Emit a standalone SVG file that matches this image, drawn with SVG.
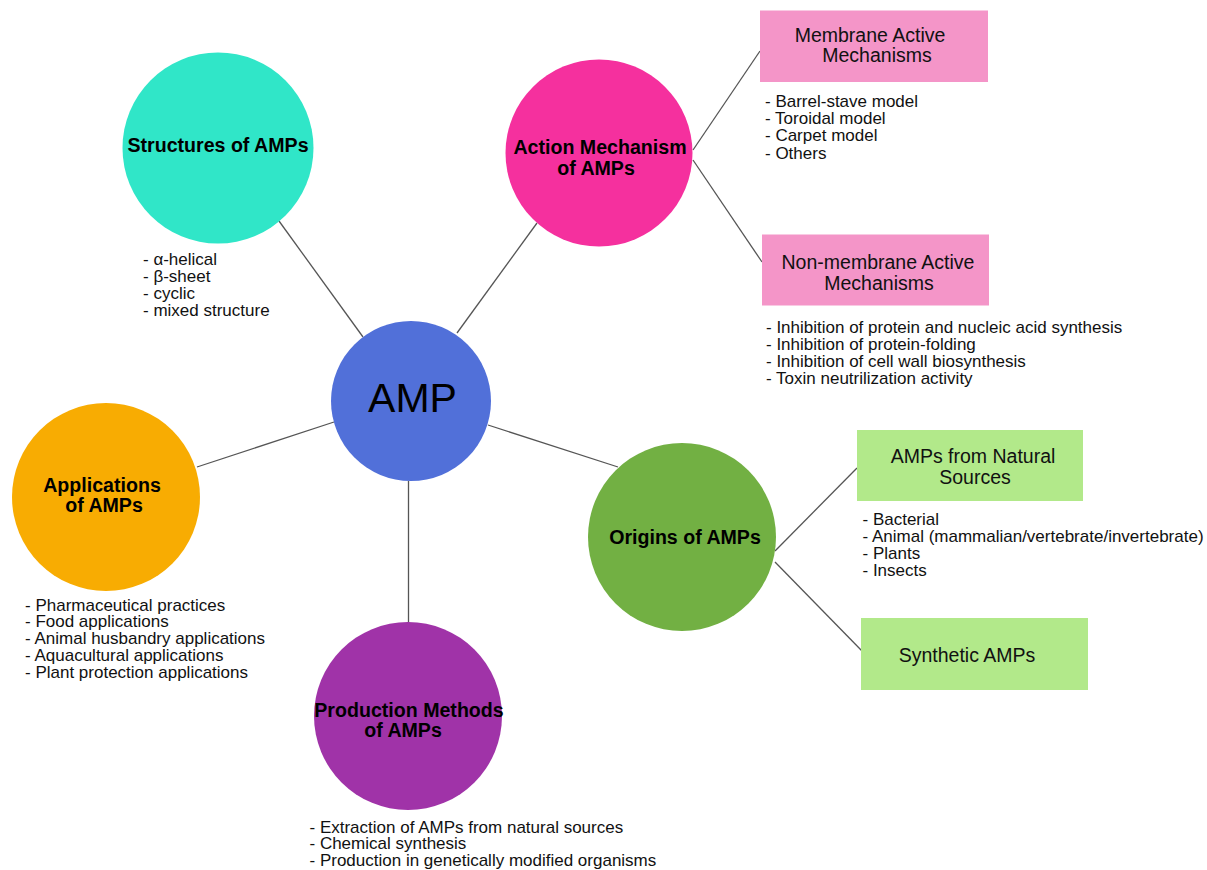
<svg xmlns="http://www.w3.org/2000/svg" width="1207" height="870" viewBox="0 0 1207 870">
<style>
.lbl{font-family:"Liberation Sans",Arial,sans-serif;font-weight:bold;font-size:19.6px;fill:#000;text-anchor:middle}
.box{font-family:"Liberation Sans",Arial,sans-serif;font-size:19.5px;fill:#111;text-anchor:middle}
.lst{font-family:"Liberation Sans",Arial,sans-serif;font-size:17px;fill:#111}
.con{stroke:#555;stroke-width:1.3;fill:none}
.pinkbox{fill:#F495C8}
.greenbox{fill:#B2E98A}
</style>
<rect width="1207" height="870" fill="#fff"/>
<g id="connectors">
<line class="con" x1="279" y1="221" x2="363" y2="337"/>
<line class="con" x1="537" y1="223" x2="457" y2="333"/>
<line class="con" x1="197" y1="467" x2="334" y2="422"/>
<line class="con" x1="488" y1="425" x2="618" y2="467"/>
<line class="con" x1="408.5" y1="481" x2="408.5" y2="623"/>
<line class="con" x1="693" y1="150" x2="760" y2="51"/>
<line class="con" x1="693" y1="160" x2="762" y2="262"/>
<line class="con" x1="775" y1="551" x2="857" y2="468"/>
<line class="con" x1="775" y1="562" x2="862" y2="651"/>
</g>
<g id="structures">
<circle cx="218" cy="148" r="95.5" fill="#30E6C8"/>
<text class="lbl" x="218" y="152">Structures of AMPs</text>
<text class="lst"><tspan x="143" y="265">- α-helical</tspan><tspan x="143" y="282">- β-sheet</tspan><tspan x="143" y="299">- cyclic</tspan><tspan x="143" y="316">- mixed structure</tspan></text>
</g>
<g id="action">
<circle cx="599" cy="153" r="93.5" fill="#F5309E"/>
<text class="lbl" x="600" y="154">Action Mechanism</text>
<text class="lbl" x="596" y="175">of AMPs</text>
</g>
<g id="membrane">
<rect class="pinkbox" x="760" y="10.5" width="228" height="71.5"/>
<text class="box" x="870" y="41.5">Membrane Active</text>
<text class="box" x="877" y="62">Mechanisms</text>
<text class="lst"><tspan x="765" y="106.5">- Barrel-stave model</tspan><tspan x="765" y="124">- Toroidal model</tspan><tspan x="765" y="141.3">- Carpet model</tspan><tspan x="765" y="158.7">- Others</tspan></text>
</g>
<g id="nonmembrane">
<rect class="pinkbox" x="762" y="234.5" width="227" height="71"/>
<text class="box" x="878" y="268.5">Non-membrane Active</text>
<text class="box" x="879" y="289.5">Mechanisms</text>
<text class="lst"><tspan x="766" y="332.7">- Inhibition of protein and nucleic acid synthesis</tspan><tspan x="766" y="350">- Inhibition of protein-folding</tspan><tspan x="766" y="367.3">- Inhibition of cell wall biosynthesis</tspan><tspan x="766" y="384.3">- Toxin neutrilization activity</tspan></text>
</g>
<g id="amp">
<circle cx="411" cy="401" r="80" fill="#5170D9"/>
<text x="412.5" y="412" font-family="'Liberation Sans',Arial,sans-serif" font-size="41" fill="#000" text-anchor="middle">AMP</text>
</g>
<g id="applications">
<circle cx="106" cy="497" r="94" fill="#F8AC02"/>
<text class="lbl" x="102" y="492">Applications</text>
<text class="lbl" x="104" y="512">of AMPs</text>
<text class="lst"><tspan x="25" y="610.7">- Pharmaceutical practices</tspan><tspan x="25" y="627.3">- Food applications</tspan><tspan x="25" y="644">- Animal husbandry applications</tspan><tspan x="25" y="661">- Aquacultural applications</tspan><tspan x="25" y="678.3">- Plant protection applications</tspan></text>
</g>
<g id="production">
<circle cx="408" cy="716" r="94" fill="#A033A8"/>
<text class="lbl" x="409" y="717">Production Methods</text>
<text class="lbl" x="403" y="737">of AMPs</text>
<text class="lst"><tspan x="309.5" y="832.7">- Extraction of AMPs from natural sources</tspan><tspan x="309.5" y="849.3">- Chemical synthesis</tspan><tspan x="309.5" y="866">- Production in genetically modified organisms</tspan></text>
</g>
<g id="origins">
<circle cx="682" cy="537" r="94" fill="#72B043"/>
<text class="lbl" x="685" y="544">Origins of AMPs</text>
</g>
<g id="natural">
<rect class="greenbox" x="857" y="430" width="226" height="71"/>
<text class="box" x="973" y="462.5">AMPs from Natural</text>
<text class="box" x="975" y="483.5">Sources</text>
<text class="lst"><tspan x="862.5" y="525">- Bacterial</tspan><tspan x="862.5" y="542.3">- Animal (mammalian/vertebrate/invertebrate)</tspan><tspan x="862.5" y="559.3">- Plants</tspan><tspan x="862.5" y="576.3">- Insects</tspan></text>
</g>
<g id="synthetic">
<rect class="greenbox" x="861" y="618" width="227" height="72"/>
<text class="box" x="967" y="661.5">Synthetic AMPs</text>
</g>
</svg>
